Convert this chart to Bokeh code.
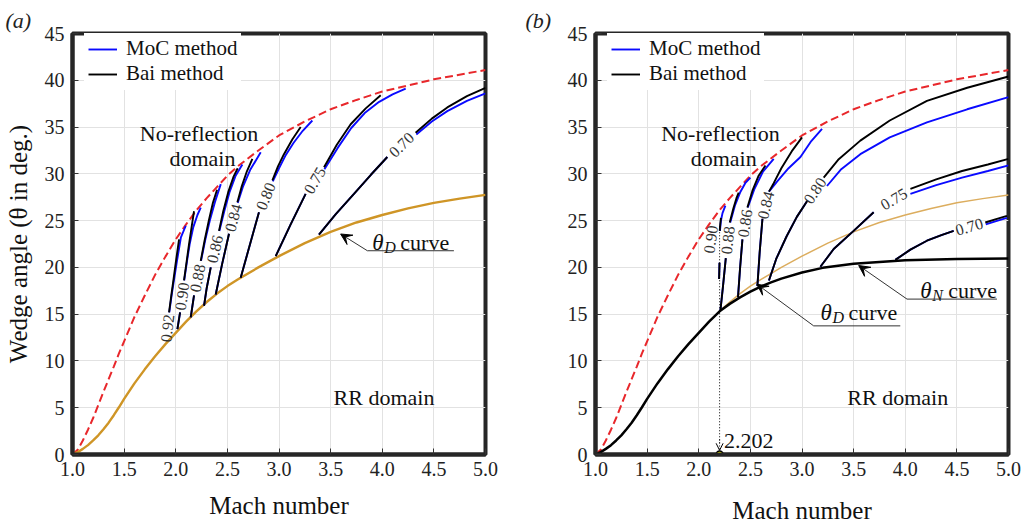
from bokeh.plotting import figure
from bokeh.models import (Range1d, FixedTicker, NumeralTickFormatter, Legend,
                          LegendItem, Arrow, VeeHead, OpenHead)
from bokeh.layouts import row
from bokeh.embed import file_html
from bokeh.resources import INLINE
from bokeh.core.properties import value

FONT = "Liberation Serif"
BLUE = "#0a0aff"
RED = "#e8272b"
GOLD = "#cf9526"
GOLD_LIGHT = "#dcad5e"

# ---------------- data ----------------
X_TICKS = [1.0, 1.5, 2.0, 2.5, 3.0, 3.5, 4.0, 4.5, 5.0]
Y_TICKS = [0, 5, 10, 15, 20, 25, 30, 35, 40, 45]

# maximum deflection (red dashed, no-reflection boundary)
MAX_M = [1.0, 1.05, 1.1, 1.15, 1.2, 1.25, 1.3, 1.35, 1.4, 1.45, 1.5, 1.6, 1.7, 1.8, 1.9, 2.0,
         2.1, 2.2, 2.3, 2.4, 2.5, 2.6, 2.8, 3.0, 3.25, 3.5, 3.75, 4.0, 4.5, 5.0]
MAX_T = [0.0, 0.5, 1.5, 2.65, 3.9, 5.3, 6.7, 8.05, 9.4, 10.8, 12.1, 14.7, 17.0, 19.2, 21.15, 23.0,
         24.6, 26.1, 27.4, 28.6, 29.8, 30.8, 32.5, 34.1, 35.6, 36.9, 37.9, 38.8, 40.1, 41.1]

# theta_D curve
DET_M = [1.0, 1.05, 1.1, 1.15, 1.2, 1.25, 1.3, 1.35, 1.4, 1.45, 1.5, 1.6, 1.7, 1.8, 1.9, 2.0,
         2.1, 2.2, 2.3, 2.4, 2.5, 2.6, 2.8, 3.0, 3.25, 3.5, 3.75, 4.0, 4.25, 4.5, 4.75, 5.0]
DET_T = [0.0, 0.25, 0.6, 1.0, 1.5, 2.05, 2.7, 3.4, 4.2, 5.05, 5.95, 7.6, 9.1, 10.5, 11.8, 13.0,
         14.2, 15.3, 16.3, 17.2, 18.0, 18.7, 20.0, 21.2, 22.6, 23.8, 24.8, 25.6, 26.3, 26.9,
         27.35, 27.75]

# theta_N curve (panel b)
VN_M = [2.202, 2.3, 2.4, 2.5, 2.6, 2.7, 2.8, 3.0, 3.2, 3.5, 4.0, 4.5, 5.0]
VN_T = [15.3, 16.1, 16.8, 17.4, 17.95, 18.4, 18.8, 19.45, 19.95, 20.4, 20.75, 20.9, 20.95]
M_CROSS = 2.202

# ---- panel (a) contours ----
A_LEVELS = ["0.92", "0.90", "0.88", "0.86", "0.84", "0.80", "0.75", "0.70"]
A_LOW_M = [[], [2.016, 2.042], [2.145, 2.177], [2.274, 2.30, 2.339], [2.387, 2.45, 2.516],
           [2.629, 2.72, 2.806], [2.968, 3.113, 3.258], [3.387, 3.55, 3.726, 3.89, 4.049]]
A_LOW_T = [[], [13.4, 15.2], [14.65, 17.0], [15.9, 17.8, 20.0], [17.1, 20.4, 23.6],
           [18.9, 22.5, 25.9], [21.2, 24.6, 27.85], [23.5, 25.7, 27.85, 29.9, 31.8]]
A_BAI_M = [[1.935, 1.957, 1.977, 2.005, 2.032], [2.080, 2.105, 2.129, 2.155, 2.177],
           [2.242, 2.28, 2.32, 2.36, 2.40], [2.419, 2.46, 2.51, 2.56, 2.60],
           [2.597, 2.64, 2.69, 2.742], [2.936, 2.99, 3.048, 3.13, 3.21],
           [3.436, 3.56, 3.694, 3.84, 3.985], [4.323, 4.48, 4.63, 4.82, 5.0]]
A_BAI_T = [[15.2, 17.0, 18.6, 20.9, 23.0], [18.6, 20.6, 22.5, 24.4, 26.0],
           [20.7, 22.9, 25.0, 26.9, 28.3], [23.9, 26.0, 28.1, 29.7, 30.6],
           [26.95, 28.7, 30.3, 31.6], [29.3, 30.8, 32.1, 33.7, 35.0],
           [30.7, 33.1, 35.3, 37.0, 38.4], [34.4, 35.9, 37.1, 38.3, 39.2]]
A_MOC_M = [[1.937, 1.96, 1.982, 2.015, 2.05, 2.097], [2.082, 2.108, 2.135, 2.17, 2.21, 2.242],
           [2.245, 2.285, 2.33, 2.38, 2.436], [2.422, 2.47, 2.52, 2.58, 2.645],
           [2.60, 2.65, 2.72, 2.823], [2.94, 3.0, 3.06, 3.14, 3.23, 3.323],
           [3.44, 3.57, 3.70, 3.83, 3.97, 4.10, 4.227], [4.33, 4.48, 4.63, 4.82, 5.0]]
A_MOC_T = [[15.2, 17.0, 18.6, 20.9, 23.2, 24.45], [18.6, 20.6, 22.5, 24.3, 25.6, 26.4],
           [20.7, 22.9, 25.0, 27.0, 28.9], [23.9, 26.0, 28.0, 29.8, 31.0],
           [26.9, 28.6, 30.4, 32.3], [29.2, 30.6, 31.9, 33.3, 34.6, 35.7],
           [30.5, 32.8, 34.9, 36.5, 37.7, 38.5, 39.1], [34.2, 35.6, 36.7, 37.8, 38.6]]
A_LAB_M = [1.919, 2.061, 2.21, 2.379, 2.557, 2.871, 3.347, 4.186]
A_LAB_T = [13.5, 16.9, 18.85, 21.95, 25.3, 27.6, 29.3, 33.1]
A_LAB_ANG = [83, 82, 79, 77, 75, 68, 60, 44]

# ---- panel (b) contours ----
B_LEVELS = ["0.90", "0.88", "0.86", "0.84", "0.80", "0.75", "0.70"]
B_LOW_M = [[2.197, 2.199, 2.201], [2.21, 2.235, 2.262], [2.38, 2.40, 2.423], [2.568, 2.59, 2.617],
           [2.68, 2.75, 2.85, 2.95, 3.05], [3.178, 3.307, 3.5, 3.694],
           [3.904, 4.05, 4.21, 4.35, 4.469]]
B_LOW_T = [[18.75, 19.6, 20.5], [15.4, 18.0, 21.0], [16.8, 19.9, 23.0], [18.0, 21.6, 25.2],
           [18.6, 20.9, 23.3, 25.4, 27.1], [20.07, 21.96, 23.9, 25.9],
           [20.8, 21.9, 22.85, 23.45, 23.9]]
B_BAI_M = [[2.203, 2.208, 2.215], [2.30, 2.335, 2.365, 2.387], [2.471, 2.52, 2.58, 2.646],
           [2.68, 2.726, 2.80, 2.90, 3.0], [3.21, 3.35, 3.565, 3.85, 4.21, 4.6, 5.0],
           [4.05, 4.3, 4.55, 4.8, 5.0], [4.775, 4.88, 4.985]]
B_BAI_T = [[23.9, 24.6, 25.3], [24.8, 26.3, 27.4, 28.0], [26.4, 28.2, 29.8, 30.9],
           [28.1, 29.0, 30.6, 32.4, 33.9], [29.6, 31.5, 33.55, 35.7, 37.8, 39.2, 40.4],
           [28.4, 29.4, 30.3, 31.0, 31.6], [24.8, 25.15, 25.5]]
B_MOC_M = [[2.205, 2.215, 2.23, 2.258], [2.305, 2.35, 2.40, 2.45, 2.50],
           [2.475, 2.54, 2.62, 2.726], [2.68, 2.76, 2.87, 2.985, 3.09, 3.194],
           [3.242, 3.38, 3.565, 3.85, 4.21, 4.6, 5.0], [4.05, 4.3, 4.55, 4.8, 5.0],
           [4.78, 4.88, 4.985]]
B_MOC_T = [[23.9, 25.0, 25.8, 26.6], [24.8, 26.6, 28.0, 29.0, 29.6], [26.4, 28.4, 30.2, 31.6],
           [28.1, 29.2, 30.6, 31.8, 33.5, 34.8], [28.7, 30.5, 32.1, 33.9, 35.5, 36.9, 38.2],
           [27.85, 28.8, 29.6, 30.3, 30.9], [24.6, 24.95, 25.3]]
B_LAB_M = [2.116, 2.281, 2.447, 2.649, 3.125, 3.89, 4.62]
B_LAB_T = [23.0, 22.9, 24.7, 26.65, 28.2, 27.3, 24.35]
B_LAB_ANG = [82, 84, 81, 76, 56, 30, 16]


# ---------------- helpers ----------------
def base_fig(title, left, right, xlab_standoff, title_offset, ylabel):
    p = figure(frame_width=413, frame_height=421, min_border_left=left, min_border_right=right,
               min_border_top=33, min_border_bottom=71, x_range=Range1d(1, 5),
               y_range=Range1d(0, 45), output_backend="svg", toolbar_location=None, title=title)
    p.title.text_font = FONT
    p.title.text_font_size = "22px"
    p.title.text_font_style = "italic"
    p.title.text_color = "#222"
    p.title.align = "left"
    p.title.offset = title_offset
    p.title.standoff = 2
    p.background_fill_color = "white"
    p.border_fill_color = "white"
    p.outline_line_color = "#262626"
    p.outline_line_width = 4
    p.xaxis.ticker = FixedTicker(ticks=X_TICKS)
    p.xaxis.formatter = NumeralTickFormatter(format="0.0")
    p.yaxis.ticker = FixedTicker(ticks=Y_TICKS)
    p.xgrid.ticker = FixedTicker(ticks=X_TICKS)
    p.ygrid.ticker = FixedTicker(ticks=Y_TICKS)
    p.grid.grid_line_color = "#e2e2e2"
    p.grid.grid_line_width = 1
    for ax in (p.xaxis, p.yaxis):
        ax.axis_line_color = "#262626"
        ax.axis_line_width = 4
        ax.major_tick_in = 6
        ax.major_tick_out = 0
        ax.major_tick_line_color = "#333"
        ax.minor_tick_line_color = None
        ax.major_label_text_font = FONT
        ax.major_label_text_font_size = "20px"
        ax.major_label_text_color = "#222"
        ax.axis_label_text_font = FONT
        ax.axis_label_text_font_size = "25px"
        ax.axis_label_text_font_style = "normal"
        ax.axis_label_text_color = "#111"
    p.xaxis.major_label_standoff = 7
    p.yaxis.major_label_standoff = 8
    p.xaxis.axis_label = "Mach number"
    p.xaxis.axis_label_standoff = xlab_standoff
    if ylabel:
        p.yaxis.axis_label = ylabel
        p.yaxis.axis_label_standoff = 10
    return p


def draw_contours(p, low_m, low_t, bai_m, bai_t, moc_m, moc_t):
    bx, by, kx, ky = [], [], [], []
    for i in range(len(bai_m)):
        if low_m[i]:
            bx.append(low_m[i]); by.append(low_t[i])
            kx.append(low_m[i]); ky.append(low_t[i])
        bx.append(moc_m[i]); by.append(moc_t[i])
        kx.append(bai_m[i]); ky.append(bai_t[i])
    rb = p.multi_line(bx, by, line_color=BLUE, line_width=1.9)
    rk = p.multi_line(kx, ky, line_color="black", line_width=1.9)
    return rb, rk


def contour_labels(p, ms, ts, labels, angles):
    p.text(x=ms, y=ts, text=labels, angle=angles, angle_units="deg",
           text_font=value(FONT), text_font_size=value("16px"), text_color="#333",
           text_align="center", text_baseline="middle")


def add_legend(p, rb, rk):
    leg = Legend(items=[LegendItem(label="MoC method", renderers=[rb]),
                        LegendItem(label="Bai method", renderers=[rk])],
                 location=(12, 364), background_fill_color="white", background_fill_alpha=1.0,
                 border_line_alpha=0, label_text_font=FONT, label_text_font_size="21px",
                 label_text_color="#111", glyph_width=29, glyph_height=22, label_height=22,
                 label_standoff=9, padding=4, spacing=0, margin=0)
    p.add_layout(leg)


def plain_text(p, m, t, s, size="22px", align="center"):
    p.text(x=[m], y=[t], text=[s], text_font=value(FONT), text_font_size=value(size),
           text_color="#111", text_align=align, text_baseline="alphabetic")


def curve_label(p, m, t, sub, und_m0, und_m1, und_t, tip_m, tip_t):
    p.text(x=[m], y=[t], text=["θ"], text_font=value(FONT), text_font_size=value("23px"),
           text_font_style="italic", text_color="#111", text_align="left",
           text_baseline="alphabetic")
    p.text(x=[m], y=[t], text=[sub], text_font=value(FONT), text_font_size=value("16px"),
           text_font_style="italic", text_color="#111", text_align="left",
           text_baseline="alphabetic", x_offset=12, y_offset=5)
    p.text(x=[m], y=[t], text=["curve"], text_font=value(FONT), text_font_size=value("22px"),
           text_color="#111", text_align="left", text_baseline="alphabetic", x_offset=28)
    p.line([und_m0, und_m1], [und_t, und_t], line_color="#333", line_width=1)
    p.add_layout(Arrow(end=VeeHead(size=11, fill_color="black", line_color="black"),
                       x_start=und_m0, y_start=und_t, x_end=tip_m, y_end=tip_t,
                       line_color="#333", line_width=1))


# ---------------- panel (a) ----------------
pa = base_fig("(a)", 72, 25, 13, -67, "Wedge angle (θ in deg.)")
pa.line(MAX_M, MAX_T, line_color=RED, line_width=2, line_dash="8 4")
pa.line(DET_M, DET_T, line_color=GOLD, line_width=2.4)
rb_a, rk_a = draw_contours(pa, A_LOW_M, A_LOW_T, A_BAI_M, A_BAI_T, A_MOC_M, A_MOC_T)
contour_labels(pa, A_LAB_M, A_LAB_T, A_LEVELS, A_LAB_ANG)
add_legend(pa, rb_a, rk_a)
plain_text(pa, 2.226, 34.27, "No-reflection")
plain_text(pa, 2.258, 31.59, "domain")
plain_text(pa, 4.017, 6.08, "RR domain")
curve_label(pa, 3.904, 22.67, "D", 3.856, 4.694, 21.78, 3.597, 23.57)

# ---------------- panel (b) ----------------
pb = base_fig("(b)", 85, 18, 18, -70, None)
pb.line(MAX_M, MAX_T, line_color=RED, line_width=2, line_dash="8 4")
det_hi_m = [m for m in DET_M if m >= 2.2]
det_hi_t = [t for m, t in zip(DET_M, DET_T) if m >= 2.2]
pb.line(det_hi_m, det_hi_t, line_color=GOLD_LIGHT, line_width=1.5)
rb_b, rk_b = draw_contours(pb, B_LOW_M, B_LOW_T, B_BAI_M, B_BAI_T, B_MOC_M, B_MOC_T)
det_lo_m = [m for m in DET_M if m < 2.2]
det_lo_t = [t for m, t in zip(DET_M, DET_T) if m < 2.2]
pb.line(det_lo_m + VN_M, det_lo_t + VN_T, line_color="black", line_width=2.5)
contour_labels(pb, B_LAB_M, B_LAB_T, B_LEVELS, B_LAB_ANG)
add_legend(pb, rb_b, rk_b)
plain_text(pb, 2.21, 34.27, "No-reflection")
plain_text(pb, 2.242, 31.59, "domain")
plain_text(pb, 3.927, 6.08, "RR domain")
curve_label(pb, 4.145, 17.5, "N", 4.017, 4.888, 16.61, 3.549, 20.2)
curve_label(pb, 3.178, 15.2, "D", 3.113, 3.952, 13.75, 2.564, 18.2)

# 2.202 marker
pb.line([M_CROSS, M_CROSS], [1.2, 24.5], line_color="black", line_width=1, line_dash="1 2")
pb.add_layout(Arrow(end=OpenHead(size=7, line_width=1, line_color="black"),
                    x_start=M_CROSS, y_start=1.6, x_end=M_CROSS, y_end=0.45,
                    line_color="black", line_width=1, line_dash="1 2"))
pb.scatter([M_CROSS], [0], size=7, fill_color="yellow", line_color="black", line_width=1.5)
plain_text(pb, 2.245, 1.44, "2.202", align="left")

layout = row(pa, pb)
open("out.html", "w").write(file_html(layout, INLINE))
